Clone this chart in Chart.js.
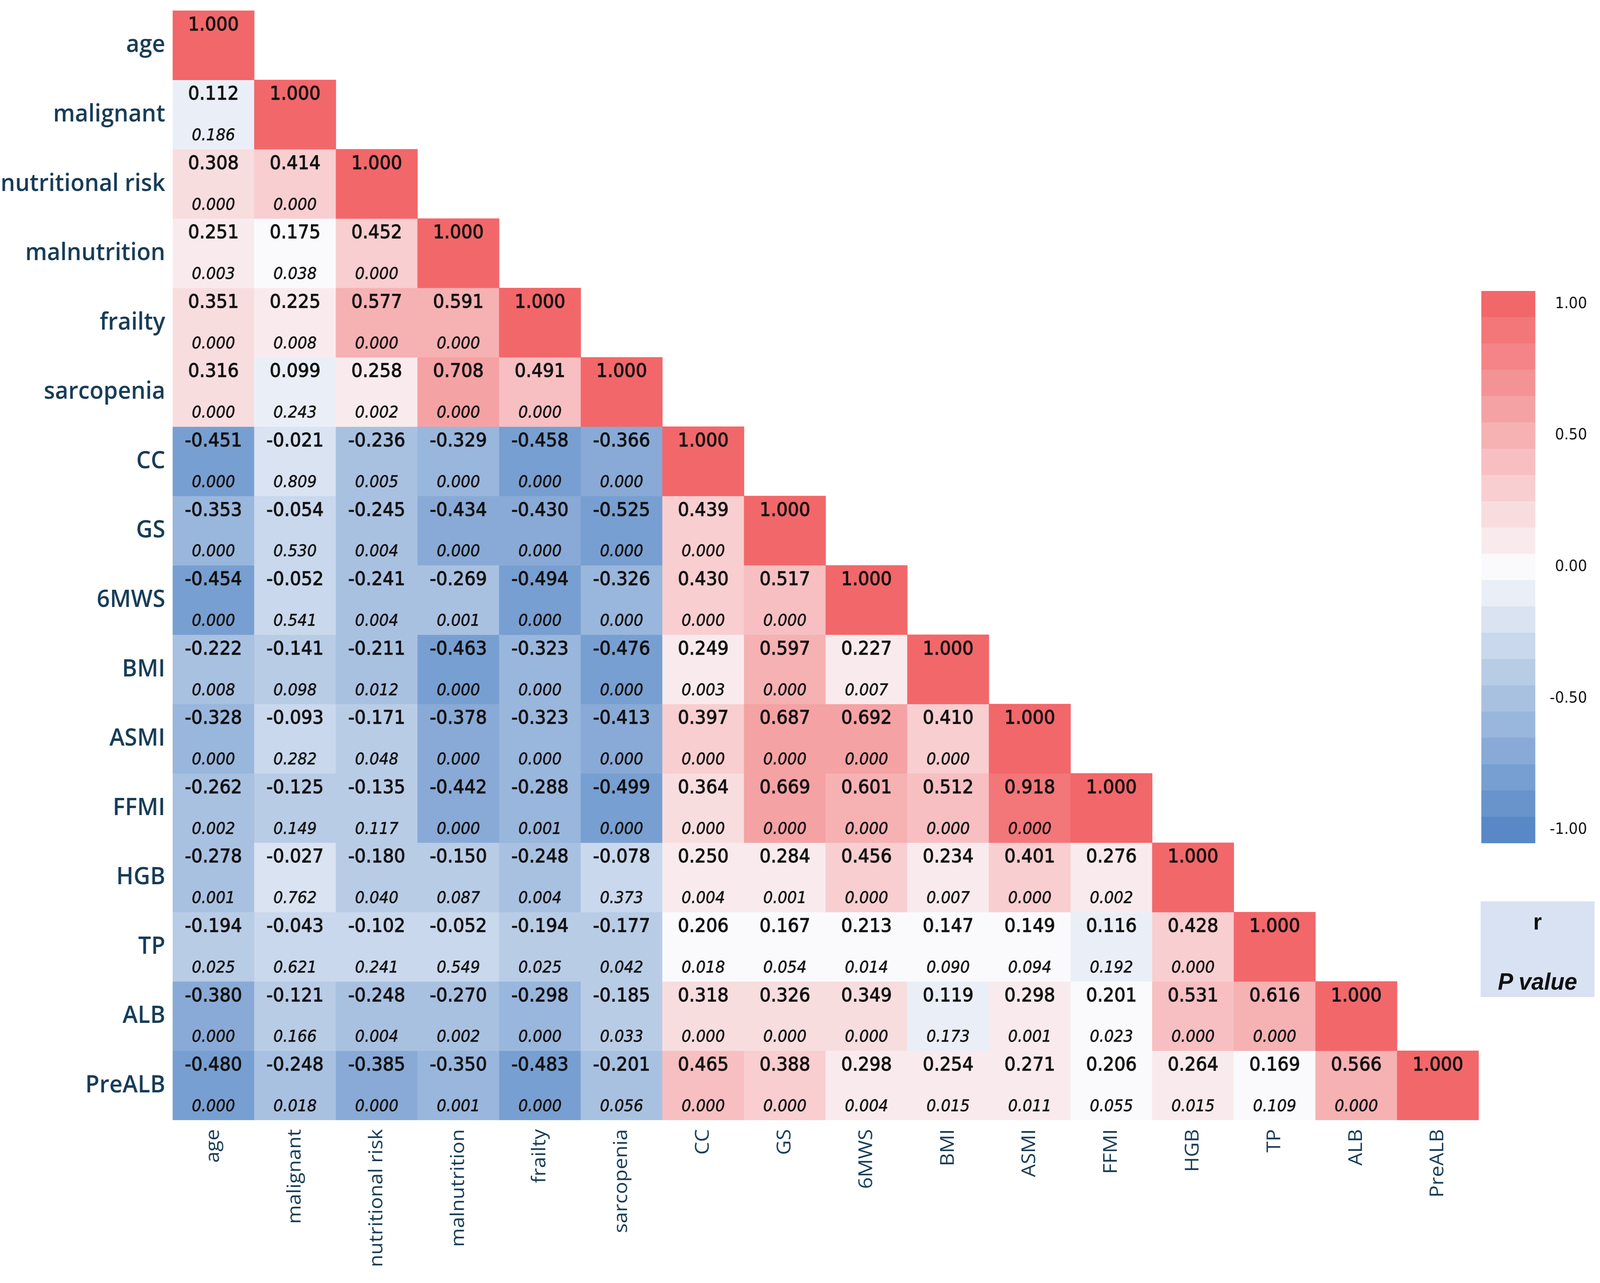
<!DOCTYPE html>
<html>
<head>
<meta charset="utf-8">
<script src="https://cdn.jsdelivr.net/npm/chart.js@4.4.0/dist/chart.umd.min.js"></script>
<style>
  html, body { margin: 0; padding: 0; background: #fff; overflow: hidden; }
  #stage { position: absolute; left: 0; top: 0; width: 4328px; height: 3285px; transform-origin: 0 0; }
  #heat { position: absolute; left: 0; top: 0; }
  #bar { position: absolute; left: 4007px; top: 720px; }
  #key { position: absolute; left: 4005px; top: 2308px; width: 308px; height: 245px; background: #d8e2f2;
         font-family: "Liberation Sans", Arial, sans-serif; font-weight: bold; color: #111; }
  #key div { position: absolute; left: 0; width: 100%; text-align: center; line-height: 64px; }
  #key .r { top: 20px; font-size: 60px; }
  #key .p { top: 173px; font-size: 62px; font-style: italic; }
</style>
</head>
<body>
<div id="stage">
  <canvas id="heat" width="4328" height="3285"></canvas>
  <canvas id="bar" width="286" height="1464"></canvas>
  <div id="key"><div class="r">r</div><div class="p">P value</div></div>
</div>
<script>
const labels = ["age", "malignant", "nutritional risk", "malnutrition", "frailty", "sarcopenia",
  "CC", "GS", "6MWS", "BMI", "ASMI", "FFMI", "HGB", "TP", "ALB", "PreALB"];

// lower triangle, row by row (r)
const rRows = [
  [1.000],
  [0.112, 1.000],
  [0.308, 0.414, 1.000],
  [0.251, 0.175, 0.452, 1.000],
  [0.351, 0.225, 0.577, 0.591, 1.000],
  [0.316, 0.099, 0.258, 0.708, 0.491, 1.000],
  [-0.451, -0.021, -0.236, -0.329, -0.458, -0.366, 1.000],
  [-0.353, -0.054, -0.245, -0.434, -0.430, -0.525, 0.439, 1.000],
  [-0.454, -0.052, -0.241, -0.269, -0.494, -0.326, 0.430, 0.517, 1.000],
  [-0.222, -0.141, -0.211, -0.463, -0.323, -0.476, 0.249, 0.597, 0.227, 1.000],
  [-0.328, -0.093, -0.171, -0.378, -0.323, -0.413, 0.397, 0.687, 0.692, 0.410, 1.000],
  [-0.262, -0.125, -0.135, -0.442, -0.288, -0.499, 0.364, 0.669, 0.601, 0.512, 0.918, 1.000],
  [-0.278, -0.027, -0.180, -0.150, -0.248, -0.078, 0.250, 0.284, 0.456, 0.234, 0.401, 0.276, 1.000],
  [-0.194, -0.043, -0.102, -0.052, -0.194, -0.177, 0.206, 0.167, 0.213, 0.147, 0.149, 0.116, 0.428, 1.000],
  [-0.380, -0.121, -0.248, -0.270, -0.298, -0.185, 0.318, 0.326, 0.349, 0.119, 0.298, 0.201, 0.531, 0.616, 1.000],
  [-0.480, -0.248, -0.385, -0.350, -0.483, -0.201, 0.465, 0.388, 0.298, 0.254, 0.271, 0.206, 0.264, 0.169, 0.566, 1.000]
];

// P values (no entry on the diagonal)
const pRows = [
  [],
  [0.186],
  [0.000, 0.000],
  [0.003, 0.038, 0.000],
  [0.000, 0.008, 0.000, 0.000],
  [0.000, 0.243, 0.002, 0.000, 0.000],
  [0.000, 0.809, 0.005, 0.000, 0.000, 0.000],
  [0.000, 0.530, 0.004, 0.000, 0.000, 0.000, 0.000],
  [0.000, 0.541, 0.004, 0.001, 0.000, 0.000, 0.000, 0.000],
  [0.008, 0.098, 0.012, 0.000, 0.000, 0.000, 0.003, 0.000, 0.007],
  [0.000, 0.282, 0.048, 0.000, 0.000, 0.000, 0.000, 0.000, 0.000, 0.000],
  [0.002, 0.149, 0.117, 0.000, 0.001, 0.000, 0.000, 0.000, 0.000, 0.000, 0.000],
  [0.001, 0.762, 0.040, 0.087, 0.004, 0.373, 0.004, 0.001, 0.000, 0.007, 0.000, 0.002],
  [0.025, 0.621, 0.241, 0.549, 0.025, 0.042, 0.018, 0.054, 0.014, 0.090, 0.094, 0.192, 0.000],
  [0.000, 0.166, 0.004, 0.002, 0.000, 0.033, 0.000, 0.000, 0.000, 0.173, 0.001, 0.023, 0.000, 0.000],
  [0.000, 0.018, 0.000, 0.001, 0.000, 0.056, 0.000, 0.000, 0.004, 0.015, 0.011, 0.055, 0.015, 0.109, 0.000]
];

const colorbarLevels = [-1.0, -0.9, -0.8, -0.7, -0.6, -0.5, -0.4, -0.3, -0.2, -0.1, 0.0,
  0.1, 0.2, 0.3, 0.4, 0.5, 0.6, 0.7, 0.8, 0.9, 1.0];
const colorbarTicks = [1.0, 0.5, 0.0, -0.5, -1.0];

// fit the 4328x3285 drawing to whatever the viewport really is
const stage = document.getElementById("stage");
if (window.innerWidth > 0 && window.innerHeight > 0) {
  const sx = window.innerWidth / 4328, sy = window.innerHeight / 3285;
  if (Math.abs(sx - 1) > 0.002 || Math.abs(sy - 1) > 0.002) {
    stage.style.transform = "scale(" + sx + "," + sy + ")";
  }
}

// 21-step blue/white/red palette
const blue = [88, 136, 198], mid = [250, 250, 252], red = [242, 103, 106];
const mix = (a, b, t) => "rgb(" + a.map((v, k) => Math.round(v + (b[k] - v) * t)).join(",") + ")";
const palette = [];
for (let k = 0; k <= 20; k++) palette.push(k < 10 ? mix(blue, mid, k / 10) : mix(mid, red, (k - 10) / 10));

// cells are binned on the data range, so white sits near r = 0.17
const vmin = -0.65, vmax = 1.0;
const cellColor = r => palette[Math.round((r - vmin) / (vmax - vmin) * 20)];
const barColor = v => palette[Math.round((v + 1) * 10)];

const labelColor = "#173c56";

const cellText = {
  id: "cellText",
  afterDatasetsDraw(chart) {
    const { ctx, scales: { x, y } } = chart;
    ctx.save();
    ctx.fillStyle = "#111";
    ctx.strokeStyle = "#111";
    ctx.textAlign = "center";
    ctx.textBaseline = "middle";
    rRows.forEach((row, i) => {
      const top = y.getPixelForValue(i - 0.5);
      const h = y.getPixelForValue(i + 0.5) - top;
      row.forEach((r, j) => {
        const cx = x.getPixelForValue(j);
        ctx.font = '48px "DejaVu Sans"';
        ctx.lineWidth = 1.4;
        ctx.fillText(r.toFixed(3), cx, top + h * 0.215);
        ctx.strokeText(r.toFixed(3), cx, top + h * 0.215);
        const p = pRows[i][j];
        if (p !== undefined) {
          ctx.font = 'italic 41px "DejaVu Sans"';
          ctx.lineWidth = 0.8;
          ctx.fillText(p.toFixed(3), cx, top + h * 0.81);
          ctx.strokeText(p.toFixed(3), cx, top + h * 0.81);
        }
      });
    });
    ctx.restore();
  }
};

new Chart(document.getElementById("heat"), {
  type: "bar",
  data: {
    labels: labels,
    datasets: rRows.map((row, i) => ({
      data: labels.map((_, j) => (j < row.length ? [i - 0.5, i + 0.5] : null)),
      backgroundColor: labels.map((_, j) => (j < row.length ? cellColor(row[j]) : "rgba(0,0,0,0)")),
      grouped: false,
      barPercentage: 1,
      categoryPercentage: 1,
      borderWidth: 0
    }))
  },
  options: {
    responsive: false,
    animation: false,
    devicePixelRatio: 1,
    layout: { padding: { left: 0, top: 27, right: 328, bottom: 37 } },
    plugins: { legend: { display: false }, tooltip: { enabled: false } },
    scales: {
      x: {
        type: "category",
        offset: true,
        grid: { display: false },
        border: { display: false },
        ticks: {
          autoSkip: false, minRotation: 90, maxRotation: 90, padding: 15,
          color: labelColor, font: { family: "Open Sans", size: 52, weight: "500" }
        },
        afterFit: s => { s.height = 380; s.paddingLeft = 0; s.paddingRight = 0; }
      },
      y: {
        type: "linear",
        min: -0.5,
        max: 15.5,
        reverse: true,
        grid: { display: false },
        border: { display: false },
        afterBuildTicks: s => { s.ticks = labels.map((_, i) => ({ value: i })); },
        ticks: {
          autoSkip: false, padding: 12, color: labelColor,
          font: { family: "Open Sans", size: 62, weight: "600" },
          callback: v => labels[v]
        },
        afterFit: s => { s.width = 467; s.paddingTop = 0; s.paddingBottom = 0; }
      }
    }
  },
  plugins: [cellText]
});

new Chart(document.getElementById("bar"), {
  type: "bar",
  data: {
    labels: [""],
    datasets: colorbarLevels.map(v => ({
      data: [[v - 0.05, v + 0.05]],
      backgroundColor: barColor(v),
      grouped: false,
      barPercentage: 1,
      categoryPercentage: 1,
      borderWidth: 0
    }))
  },
  options: {
    responsive: false,
    animation: false,
    devicePixelRatio: 1,
    layout: { padding: { left: 0, top: 25, right: 0, bottom: 25 } },
    plugins: { legend: { display: false }, tooltip: { enabled: false } },
    scales: {
      x: { display: false },
      y: {
        position: "right",
        min: -1.05,
        max: 1.05,
        grid: { display: false },
        border: { display: false },
        afterBuildTicks: s => { s.ticks = colorbarTicks.map(v => ({ value: v })); },
        ticks: {
          crossAlign: "far", color: "#111",
          font: { family: "DejaVu Sans", size: 39 },
          callback: v => v.toFixed(2)
        },
        afterFit: s => { s.width = 140; s.paddingTop = 0; s.paddingBottom = 0; }
      }
    }
  }
});
</script>
</body>
</html>
